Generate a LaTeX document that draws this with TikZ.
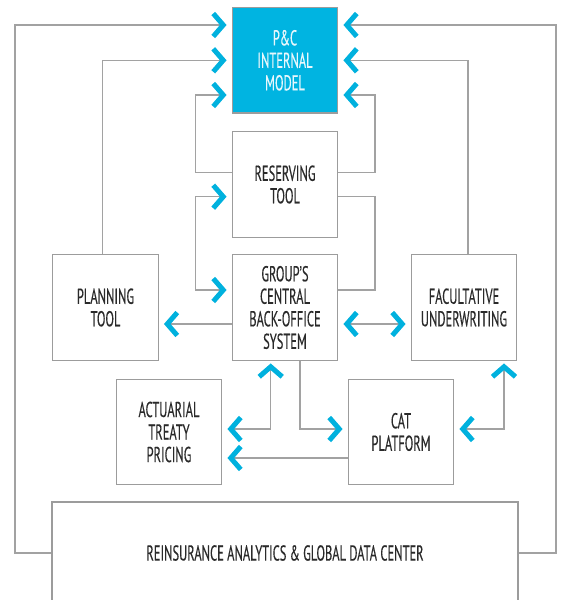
\documentclass[tikz,border=0pt]{standalone}
\usepackage{fontspec}
\setmainfont{PT Sans}[FakeStretch=0.58,FakeBold=0.3]
\usetikzlibrary{arrows.meta}
\definecolor{cy}{HTML}{00B1DE}
\definecolor{pcfill}{HTML}{00B4E1}
\definecolor{lg}{HTML}{A2A2A2}
\definecolor{bg}{HTML}{9C9C9C}
\definecolor{tx}{HTML}{2A2A2A}
\definecolor{wt}{HTML}{E8F7FC}
\tikzset{
  tipc/.tip={Straight Barb[length=10pt,width=23pt,line width=5pt,color=cy,sharp]},
  ln/.style={draw=lg, line width=1.4pt},
  toarr/.style={ln, -{tipc}, shorten >=5pt},
  botharr/.style={ln, {tipc}-{tipc}, shorten >=5pt, shorten <=5pt},
  upboth/.style={ln, {tipc}-{tipc}, shorten <=5pt, shorten >=2.5pt},
  box/.style={draw=bg, line width=1.4pt, minimum width=105.5pt, minimum height=105.5pt,
    align=center, text=tx, inner sep=2pt, font=\fontsize{21.5}{22.5}\selectfont},
}
\begin{document}
\begin{tikzpicture}[x=1pt,y=-1pt]
\useasboundingbox (0,0) rectangle (562,600);
\node[box, fill=pcfill, text=wt] (pc) at (285,60.3) {P\&C\\INTERNAL\\MODEL};
\node[box] (res) at (285,184.5) {RESERVING\\TOOL};
\node[box] (grp) at (285,307.5) {GROUP’S\\CENTRAL\\BACK-OFFICE\\SYSTEM};
\node[box] (plan) at (105.5,307.5) {PLANNING\\TOOL};
\node[box] (fac) at (464,307.5) {FACULTATIVE\\UNDERWRITING};
\node[box] (act) at (169,432) {ACTUARIAL\\TREATY\\PRICING};
\node[box] (cat) at (401,432) {CAT\\PLATFORM};
\node[box, minimum width=466pt, minimum height=102pt] (rein) at (285,553) {REINSURANCE ANALYTICS \& GLOBAL DATA CENTER};
% to internal model
\draw[toarr] (rein.west) -| (15,25) -- (pc.west |- 0,25);
\draw[toarr] (rein.east) -| (556,25) -- (pc.east |- 0,25);
\draw[toarr] ([xshift=-3pt]plan.north) |- (pc.west);
\draw[toarr] ([xshift=4pt]fac.north) |- (pc.east);
\draw[toarr] (res.west |- 0,172.7) -| (195.7,95) -- (pc.west |- 0,95);
\draw[toarr] (res.east |- 0,172.7) -| (375,95) -- (pc.east |- 0,95);
% reserving - group
\draw[botharr] (res.west |- 0,196.7) -| (195.7,290) -- (grp.west |- 0,290);
\draw[ln] (res.east |- 0,196.7) -| (375,290) -- (grp.east |- 0,290);
% group - planning / facultative
\draw[toarr] (grp.west |- 0,324) -- (plan.east |- 0,324);
\draw[botharr] (grp.east |- 0,324) -- (fac.west |- 0,324);
% group - cat
\draw[toarr] ([xshift=15pt]grp.south) |- (cat.west |- 0,429);
% actuarial - group
\draw[upboth] (act.east |- 0,429) -| ([xshift=-14.3pt]grp.south);
% cat - actuarial
\draw[toarr] (cat.west |- 0,458) -- (act.east |- 0,458);
% cat - facultative
\draw[upboth] (cat.east |- 0,429) -| ([xshift=40pt]fac.south);
\end{tikzpicture}
\end{document}
